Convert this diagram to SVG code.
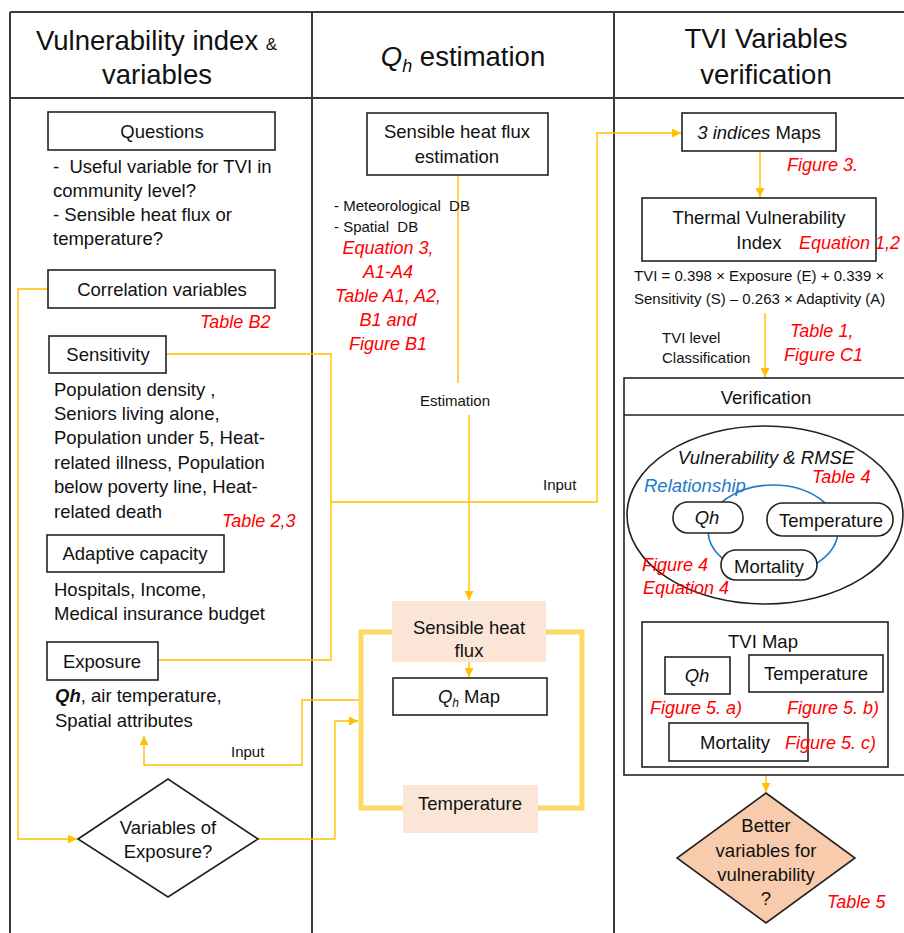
<svg xmlns="http://www.w3.org/2000/svg" width="904" height="933" viewBox="0 0 904 933">
<style>
text{font-family:"Liberation Sans",Arial,sans-serif;fill:#111;white-space:pre;}
.t{font-size:27.5px;}
.b{font-size:18.5px;}
.s{font-size:15px;}
.c{text-anchor:middle;}
.r{fill:#FF0000;font-style:italic;font-size:18px;}
.i{font-style:italic;}
.box{fill:#fff;stroke:#222;stroke-width:1.6;}
.grid{stroke:#3a3a3a;stroke-width:2;fill:none;}
.con{fill:none;stroke:#FFC000;stroke-width:1.4;}
.peach{fill:#FBE5D6;stroke:none;}
</style>
<defs>
<marker id="ah" viewBox="0 0 10 10" refX="10" refY="5" markerWidth="9" markerHeight="9" markerUnits="userSpaceOnUse" orient="auto">
<path d="M0,0 L10,5 L0,10 z" fill="#FFC000"/>
</marker>
</defs>

<g id="table">
<line class="grid" x1="10" y1="12" x2="904" y2="12"/>
<line class="grid" x1="10" y1="98" x2="904" y2="98"/>
<line class="grid" x1="10" y1="12" x2="10" y2="933"/>
<line class="grid" x1="312" y1="12" x2="312" y2="933"/>
<line class="grid" x1="614" y1="12" x2="614" y2="933"/>
<text class="t" x="36" y="50">Vulnerability index <tspan font-size="17">&amp;</tspan></text>
<text class="t c" x="157" y="84">variables</text>
<text class="t c" x="463" y="66"><tspan class="i">Q</tspan><tspan class="i" font-size="18" dy="6">h</tspan><tspan dy="-6"> estimation</tspan></text>
<text class="t c" x="766" y="48">TVI Variables</text>
<text class="t c" x="766" y="84">verification</text>
</g>

<g id="connectors">
<polyline class="con" points="48,289 18,289 18,839 77,839" marker-end="url(#ah)"/>
<polyline class="con" points="166,354 331,354 331,660 158,660"/>
<polyline class="con" points="331,502 597,502 597,133 681,133" marker-end="url(#ah)"/>
<polyline class="con" points="360,700 302,700 302,765 144,765 144,736" marker-end="url(#ah)"/>
<polyline class="con" points="258,839 335,839 335,721 358,721" marker-end="url(#ah)"/>
<line class="con" x1="458" y1="175" x2="458" y2="383"/>
<line class="con" x1="469" y1="415" x2="469" y2="600" marker-end="url(#ah)"/>
<line class="con" x1="469" y1="662" x2="469" y2="677" marker-end="url(#ah)"/>
<line class="con" x1="760" y1="151" x2="760" y2="197" marker-end="url(#ah)"/>
<line class="con" x1="765" y1="313" x2="765" y2="377" marker-end="url(#ah)"/>
<line class="con" x1="766" y1="775" x2="766" y2="792" marker-end="url(#ah)"/>
<text class="s" x="543" y="490">Input</text>
<text class="s" x="231" y="757">Input</text>
<text class="s c" x="455" y="406">Estimation</text>
<text class="s" x="662" y="343">TVI level</text>
<text class="s" x="662" y="363">Classification</text>
</g>

<g id="questions">
<rect class="box" x="48" y="112" width="227" height="38"/>
<text class="b c" x="162" y="138">Questions</text>
<text class="b" x="53" y="173">-  Useful variable for TVI in</text>
<text class="b" x="53" y="197">community level?</text>
<text class="b" x="53" y="221">- Sensible heat flux or</text>
<text class="b" x="53" y="245">temperature?</text>
</g>

<g id="correlation">
<rect class="box" x="48" y="270" width="227" height="38"/>
<text class="b c" x="162" y="296">Correlation variables</text>
<text class="r" x="200" y="328">Table B2</text>
</g>

<g id="sensitivity">
<rect class="box" x="49" y="336" width="117" height="37"/>
<text class="b c" x="108" y="361">Sensitivity</text>
<text class="b" x="54" y="396">Population density ,</text>
<text class="b" x="54" y="420">Seniors living alone,</text>
<text class="b" x="54" y="444">Population under 5, Heat-</text>
<text class="b" x="54" y="469">related illness, Population</text>
<text class="b" x="54" y="493">below poverty line, Heat-</text>
<text class="b" x="54" y="518">related death</text>
<text class="r" x="222" y="527">Table 2,3</text>
</g>

<g id="adaptive">
<rect class="box" x="47" y="535" width="177" height="37"/>
<text class="b c" x="135" y="560">Adaptive capacity</text>
<text class="b" x="54" y="596">Hospitals, Income,</text>
<text class="b" x="54" y="620">Medical insurance budget</text>
</g>

<g id="exposure">
<rect class="box" x="47" y="642" width="111" height="38"/>
<text class="b c" x="102" y="668">Exposure</text>
<text class="b" x="55" y="702"><tspan font-weight="bold" font-style="italic">Qh</tspan>, air temperature,</text>
<text class="b" x="55" y="727">Spatial attributes</text>
</g>

<g id="variables-exposure">
<polygon class="box" points="78,839 168,779 258,839 168,897"/>
<text class="b c" x="168" y="834">Variables of</text>
<text class="b c" x="168" y="858">Exposure?</text>
</g>

<g id="shf-estimation">
<rect class="box" x="367" y="113" width="181" height="62"/>
<text class="b c" x="457" y="138">Sensible heat flux</text>
<text class="b c" x="457" y="163">estimation</text>
<text class="s" x="334" y="211">- Meteorological  DB</text>
<text class="s" x="334" y="232">- Spatial  DB</text>
<text class="r c" x="388" y="254">Equation 3,</text>
<text class="r c" x="388" y="278">A1-A4</text>
<text class="r c" x="388" y="302">Table A1, A2,</text>
<text class="r c" x="388" y="326">B1 and</text>
<text class="r c" x="388" y="350">Figure B1</text>
</g>

<g id="frame">
<rect x="361" y="632" width="221" height="176" fill="none" stroke="#FFD966" stroke-width="5"/>
</g>

<g id="shf">
<rect class="peach" x="392" y="601" width="154" height="61"/>
<text class="b c" x="469" y="634">Sensible heat</text>
<text class="b c" x="469" y="657">flux</text>
</g>

<g id="qh-map">
<rect class="box" x="393" y="678" width="154" height="37"/>
<text class="b c" x="469" y="703"><tspan class="i">Q</tspan><tspan class="i" font-size="12" dy="4">h</tspan><tspan dy="-4"> Map</tspan></text>
</g>

<g id="temperature">
<rect class="peach" x="403" y="785" width="135" height="48"/>
<text class="b c" x="470" y="810">Temperature</text>
</g>

<g id="indices-maps">
<rect class="box" x="682" y="113" width="154" height="38"/>
<text class="b c" x="759" y="139"><tspan class="i">3 indices</tspan> Maps</text>
<text class="r" x="787" y="171">Figure 3.</text>
</g>

<g id="tvi">
<rect class="box" x="642" y="198" width="234" height="63"/>
<text class="b c" x="759" y="224">Thermal Vulnerability</text>
<text class="b c" x="759" y="249">Index</text>
<text class="r" x="799" y="249">Equation 1,2</text>
<text class="s" x="634" y="281" font-size="16">TVI = 0.398 × Exposure (E) + 0.339 ×</text>
<text class="s" x="634" y="304" font-size="16">Sensitivity (S) – 0.263 × Adaptivity (A)</text>
<text class="r" x="790" y="337">Table 1,</text>
<text class="r" x="784" y="361">Figure C1</text>
</g>

<g id="verification">
<rect class="box" x="624" y="378" width="290" height="397" fill="none"/>
<line stroke="#222" stroke-width="1.6" x1="624" y1="415" x2="904" y2="415"/>
<text class="b c" x="766" y="404">Verification</text>
<ellipse cx="765" cy="515" rx="138" ry="89" fill="none" stroke="#222" stroke-width="1.6"/>
<text class="b c i" x="766" y="464">Vulnerability &amp; RMSE</text>
<text class="r" x="812" y="483">Table 4</text>
<ellipse cx="773" cy="530" rx="65" ry="45" fill="none" stroke="#1F7AC8" stroke-width="1.6"/>
<text class="b i" x="644" y="492" style="fill:#1F7AC8">Relationship</text>
<rect class="box" x="673" y="502" width="70" height="31" rx="15"/>
<text class="b c i" x="707" y="524">Qh</text>
<rect class="box" x="767" y="503" width="126" height="33" rx="16"/>
<text class="b c" x="831" y="527">Temperature</text>
<rect class="box" x="721" y="550" width="96" height="30" rx="15"/>
<text class="b c" x="769" y="573">Mortality</text>
<text class="r" x="642" y="571">Figure 4</text>
<text class="r" x="643" y="594">Equation 4</text>
</g>

<g id="tvi-map">
<rect class="box" x="642" y="622" width="246" height="145" fill="none"/>
<text class="b c" x="763" y="648">TVI Map</text>
<rect class="box" x="665" y="657" width="65" height="37"/>
<text class="b c i" x="697" y="682">Qh</text>
<rect class="box" x="749" y="655" width="134" height="37"/>
<text class="b c" x="816" y="680">Temperature</text>
<text class="r" x="650" y="714">Figure 5. a)</text>
<text class="r" x="787" y="714">Figure 5. b)</text>
<rect class="box" x="669" y="723" width="139" height="38"/>
<text class="b" x="700" y="749">Mortality</text>
<text class="r" x="785" y="749">Figure 5. c)</text>
</g>

<g id="better-variables">
<polygon points="766,793 855,858 766,923 677,858" fill="#F8CBAD" stroke="#222" stroke-width="1.6"/>
<text class="b c" x="766" y="832">Better</text>
<text class="b c" x="766" y="857">variables for</text>
<text class="b c" x="766" y="881">vulnerability</text>
<text class="b c" x="766" y="905">?</text>
<text class="r" x="827" y="908">Table 5</text>
</g>
</svg>
